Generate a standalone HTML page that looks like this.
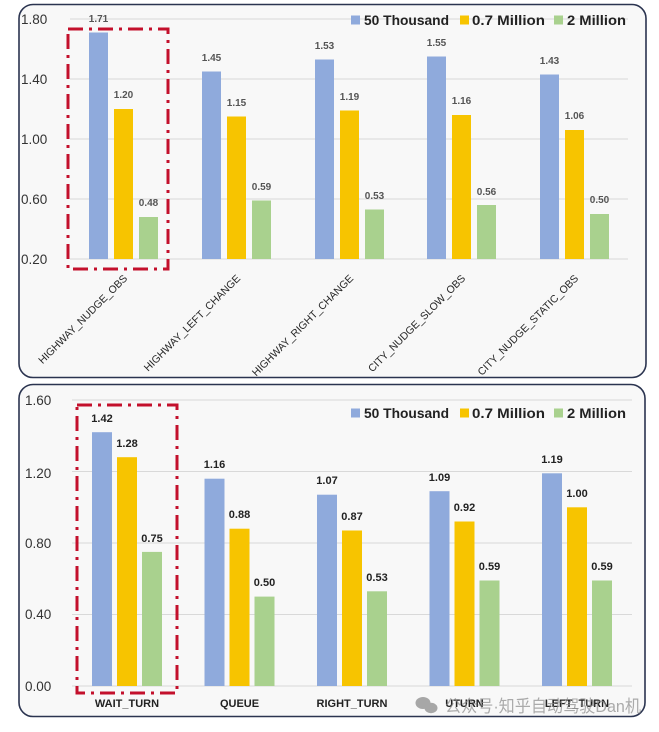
<!DOCTYPE html>
<html><head><meta charset="utf-8"><style>
html,body{margin:0;padding:0;background:#fff;}
svg{display:block;}
text{font-family:"Liberation Sans","Noto Sans CJK SC",sans-serif;}
</style></head><body>
<svg width="659" height="732" viewBox="0 0 659 732" xmlns="http://www.w3.org/2000/svg">
<rect x="0" y="0" width="659" height="732" fill="#fff"/>
<!-- TOP PANEL -->
<rect x="19" y="4.5" width="627" height="373" rx="14" ry="14" fill="#f8f8f8" stroke="#2b3450" stroke-width="1.6"/>
<g stroke="#d9d9d9" stroke-width="1">
<line x1="70" y1="19" x2="628" y2="19"/>
<line x1="70" y1="79" x2="628" y2="79"/>
<line x1="70" y1="139" x2="628" y2="139"/>
<line x1="70" y1="199" x2="628" y2="199"/>
<line x1="70" y1="259" x2="628" y2="259"/>
</g>
<g font-size="13.5" fill="#333">
<text x="21" y="24">1.80</text>
<text x="21" y="84">1.40</text>
<text x="21" y="144">1.00</text>
<text x="21" y="204">0.60</text>
<text x="21" y="264">0.20</text>
</g>
<!-- bars top: y = 259 - (v-0.2)*150 -->
<g>
<rect x="89" y="32.5" width="19" height="226.5" fill="#8faadc"/>
<rect x="114" y="109" width="19" height="150" fill="#f7c400"/>
<rect x="139" y="217" width="19" height="42" fill="#a9d18e"/>

<rect x="202" y="71.5" width="19" height="187.5" fill="#8faadc"/>
<rect x="227" y="116.5" width="19" height="142.5" fill="#f7c400"/>
<rect x="252" y="200.5" width="19" height="58.5" fill="#a9d18e"/>

<rect x="315" y="59.5" width="19" height="199.5" fill="#8faadc"/>
<rect x="340" y="110.5" width="19" height="148.5" fill="#f7c400"/>
<rect x="365" y="209.5" width="19" height="49.5" fill="#a9d18e"/>

<rect x="427" y="56.5" width="19" height="202.5" fill="#8faadc"/>
<rect x="452" y="115" width="19" height="144" fill="#f7c400"/>
<rect x="477" y="205" width="19" height="54" fill="#a9d18e"/>

<rect x="540" y="74.5" width="19" height="184.5" fill="#8faadc"/>
<rect x="565" y="130" width="19" height="129" fill="#f7c400"/>
<rect x="590" y="214" width="19" height="45" fill="#a9d18e"/>
</g>
<g font-size="10" font-weight="bold" fill="#555" text-anchor="middle">
<text x="98.5" y="22">1.71</text>
<text x="123.5" y="98">1.20</text>
<text x="148.5" y="206">0.48</text>
<text x="211.5" y="61">1.45</text>
<text x="236.5" y="106">1.15</text>
<text x="261.5" y="190">0.59</text>
<text x="324.5" y="49">1.53</text>
<text x="349.5" y="100">1.19</text>
<text x="374.5" y="199">0.53</text>
<text x="436.5" y="46">1.55</text>
<text x="461.5" y="104">1.16</text>
<text x="486.5" y="195">0.56</text>
<text x="549.5" y="64">1.43</text>
<text x="574.5" y="119">1.06</text>
<text x="599.5" y="203">0.50</text>
</g>
<g font-size="10.5" fill="#262626" text-anchor="end">
<text transform="translate(128,279) rotate(-45)">HIGHWAY_NUDGE_OBS</text>
<text transform="translate(241,279) rotate(-45)">HIGHWAY_LEFT_CHANGE</text>
<text transform="translate(354,279) rotate(-45)">HIGHWAY_RIGHT_CHANGE</text>
<text transform="translate(466,279) rotate(-45)">CITY_NUDGE_SLOW_OBS</text>
<text transform="translate(579,279) rotate(-45)">CITY_NUDGE_STATIC_OBS</text>
</g>
<!-- legend top -->
<rect x="351" y="15.5" width="9" height="9" fill="#8faadc"/>
<text x="364" y="25" font-size="14" font-weight="bold" fill="#222" textLength="85" lengthAdjust="spacingAndGlyphs">50 Thousand</text>
<rect x="460" y="15.5" width="9" height="9" fill="#f7c400"/>
<text x="472" y="25" font-size="14" font-weight="bold" fill="#222" textLength="73" lengthAdjust="spacingAndGlyphs">0.7 Million</text>
<rect x="554" y="15.5" width="9" height="9" fill="#a9d18e"/>
<text x="567" y="25" font-size="14" font-weight="bold" fill="#222" textLength="59" lengthAdjust="spacingAndGlyphs">2 Million</text>
<!-- red box top -->
<rect x="68" y="29" width="100" height="240" fill="none" stroke="#c3102c" stroke-width="3" stroke-dasharray="15 6 3 6"/>

<!-- BOTTOM PANEL -->
<rect x="19" y="384.5" width="626" height="332" rx="14" ry="14" fill="#f8f8f8" stroke="#2b3450" stroke-width="1.6"/>
<g stroke="#d9d9d9" stroke-width="1">
<line x1="72" y1="400" x2="632" y2="400"/>
<line x1="72" y1="471.5" x2="632" y2="471.5"/>
<line x1="72" y1="543" x2="632" y2="543"/>
<line x1="72" y1="614.5" x2="632" y2="614.5"/>
<line x1="72" y1="686" x2="632" y2="686"/>
</g>
<g font-size="13.5" fill="#333">
<text x="25" y="405">1.60</text>
<text x="25" y="478">1.20</text>
<text x="25" y="548">0.80</text>
<text x="25" y="619">0.40</text>
<text x="25" y="691">0.00</text>
</g>
<!-- bars bottom: y = 686 - v*178.75 -->
<g>
<rect x="92" y="432.2" width="20" height="253.8" fill="#8faadc"/>
<rect x="117" y="457.2" width="20" height="228.8" fill="#f7c400"/>
<rect x="142" y="551.9" width="20" height="134.1" fill="#a9d18e"/>

<rect x="204.5" y="478.7" width="20" height="207.3" fill="#8faadc"/>
<rect x="229.5" y="528.7" width="20" height="157.3" fill="#f7c400"/>
<rect x="254.5" y="596.6" width="20" height="89.4" fill="#a9d18e"/>

<rect x="317" y="494.7" width="20" height="191.3" fill="#8faadc"/>
<rect x="342" y="530.5" width="20" height="155.5" fill="#f7c400"/>
<rect x="367" y="591.3" width="20" height="94.7" fill="#a9d18e"/>

<rect x="429.5" y="491.2" width="20" height="194.8" fill="#8faadc"/>
<rect x="454.5" y="521.5" width="20" height="164.5" fill="#f7c400"/>
<rect x="479.5" y="580.5" width="20" height="105.5" fill="#a9d18e"/>

<rect x="542" y="473.3" width="20" height="212.7" fill="#8faadc"/>
<rect x="567" y="507.3" width="20" height="178.7" fill="#f7c400"/>
<rect x="592" y="580.5" width="20" height="105.5" fill="#a9d18e"/>
</g>
<g font-size="11" font-weight="bold" fill="#222" text-anchor="middle">
<text x="102" y="422">1.42</text>
<text x="127" y="447">1.28</text>
<text x="152" y="542">0.75</text>
<text x="214.5" y="468">1.16</text>
<text x="239.5" y="518">0.88</text>
<text x="264.5" y="586">0.50</text>
<text x="327" y="484">1.07</text>
<text x="352" y="520">0.87</text>
<text x="377" y="581">0.53</text>
<text x="439.5" y="481">1.09</text>
<text x="464.5" y="511">0.92</text>
<text x="489.5" y="570">0.59</text>
<text x="552" y="463">1.19</text>
<text x="577" y="497">1.00</text>
<text x="602" y="570">0.59</text>
</g>
<g font-size="11" font-weight="bold" fill="#222" text-anchor="middle">
<text x="127" y="707">WAIT_TURN</text>
<text x="239.5" y="707">QUEUE</text>
<text x="352" y="707">RIGHT_TURN</text>
<text x="464.5" y="707">UTURN</text>
<text x="577" y="707">LEFT_TURN</text>
</g>
<!-- legend bottom -->
<rect x="351" y="408.5" width="9" height="9" fill="#8faadc"/>
<text x="364" y="418" font-size="14" font-weight="bold" fill="#222" textLength="85" lengthAdjust="spacingAndGlyphs">50 Thousand</text>
<rect x="460" y="408.5" width="9" height="9" fill="#f7c400"/>
<text x="472" y="418" font-size="14" font-weight="bold" fill="#222" textLength="73" lengthAdjust="spacingAndGlyphs">0.7 Million</text>
<rect x="554" y="408.5" width="9" height="9" fill="#a9d18e"/>
<text x="567" y="418" font-size="14" font-weight="bold" fill="#222" textLength="59" lengthAdjust="spacingAndGlyphs">2 Million</text>
<!-- red box bottom -->
<rect x="77" y="405" width="100" height="288" fill="none" stroke="#c3102c" stroke-width="3" stroke-dasharray="15 6 3 6"/>
<!-- watermark -->
<g fill="#9a9a9a" opacity="0.85">
<ellipse cx="423" cy="703" rx="7.5" ry="6"/>
<ellipse cx="431" cy="708" rx="6.5" ry="5.2"/>
</g>
<text x="445" y="712" font-size="17" fill="#8a8a8a" opacity="0.7" textLength="196" lengthAdjust="spacingAndGlyphs">公众号·知乎自动驾驶Dan机</text>
</svg>
</body></html>
